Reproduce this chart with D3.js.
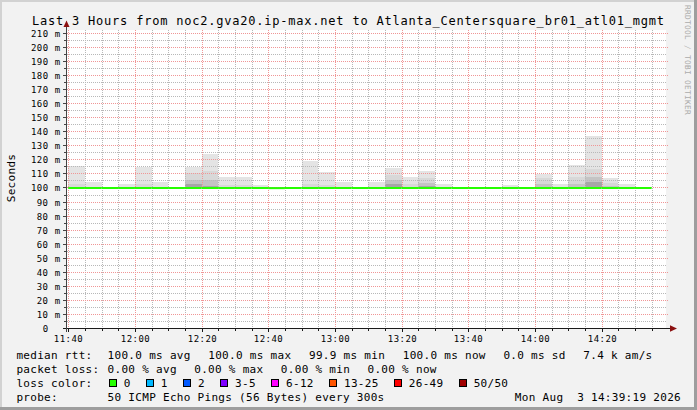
<!DOCTYPE html>
<html><head><meta charset="utf-8">
<script src="https://cdn.jsdelivr.net/npm/d3@7"></script>
<style>
html,body{margin:0;padding:0;background:#f2f2f2;}
svg{display:block;}
text{font-family:"DejaVu Sans Mono",monospace;white-space:pre;}
</style></head><body>
<svg id="chart" width="697" height="410"></svg>
<script>
// ---------- data ----------
const titleText = "Last 3 Hours from noc2.gva20.ip-max.net to Atlanta_Centersquare_br01_atl01_mgmt";
const rangeStart = "2026-08-03 11:39:19";
const rangeEnd = "2026-08-03 14:39:19";
const stepMinutes = 5;
const intervalStarts = ["11:40","11:45","11:50","11:55","12:00","12:05","12:10","12:15","12:20","12:25",
  "12:30","12:35","12:40","12:45","12:50","12:55","13:00","13:05","13:10","13:15",
  "13:20","13:25","13:30","13:35","13:40","13:45","13:50","13:55","14:00","14:05",
  "14:10","14:15","14:20","14:25","14:30"];
const smokeMin = [99.9,99.9,99.9,99.9,99.9,99.9,99.9,99.9,99.9,99.9,99.9,99.9,99.9,99.9,99.9,99.9,99.9,99.9,
  99.9,99.9,99.9,99.9,99.9,99.9,99.9,99.9,99.9,99.9,99.9,99.9,99.9,99.9,99.9,99.9,99.9];
const smokeMax = [116.0,104.6,100.6,102.7,115.3,104.6,100.6,114.6,124.2,107.6,107.6,102.3,100.6,100.6,119.1,
  111.7,104.6,100.6,104.2,114.1,107.5,111.9,102.6,100.6,100.6,100.6,101.8,100.6,110.1,102.5,116.7,136.7,107.2,102.5,100.6];
const smokeP90 = [103,101,100.5,100.5,103,101,100.5,110.5,112,102,102,100.5,100.5,100.5,103,102,101,100.5,
  101,109.3,103,107.2,100.5,100.5,100.5,100.5,100.5,100.5,107.2,100.5,108,113.7,103.4,100.5,100.5];
const smokeP75 = [100.5,100.5,100.5,100.5,100.5,100.5,100.5,105.5,106,100.5,100.5,100.5,100.5,100.5,100.5,100.5,
  100.5,100.5,100.5,105.7,100.8,103.5,100.5,100.5,100.5,100.5,100.5,100.5,103,100.5,103,107.7,101.2,100.5,100.5];
const smokeCore = [100.5,100.5,100.5,100.5,100.5,100.5,100.5,103,101.5,100.5,100.5,100.5,100.5,100.5,100.5,100.5,
  100.5,100.5,100.5,102.5,100.5,101.5,100.5,100.5,100.5,100.5,100.5,100.5,100.5,100.5,101,104,100.5,100.5,100.5];
const medianRtt = [100.0,100.0,100.0,100.0,100.0,100.0,100.0,100.0,100.0,100.0,100.0,100.0,99.9,100.0,100.0,100.0,
  100.0,100.0,100.0,100.0,100.0,100.0,100.0,100.0,100.0,100.0,100.0,100.0,100.0,100.0,100.0,100.0,100.0,100.0,100.0];
const lossCount = [0,0,0,0,0,0,0,0,0,0,0,0,0,0,0,0,0,0,0,0,0,0,0,0,0,0,0,0,0,0,0,0,0,0,0];
const yMajorTicks = [10,20,30,40,50,60,70,80,90,100,110,120,130,140,150,160,170,180,190,200,210];
const yMinorTicks = [5,15,25,35,45,55,65,75,85,95,105,115,125,135,145,155,165,175,185,195,205];
const yTickLabels = ["0","10","20","30","40","50","60","70","80","90","100","110","120","130","140","150","160","170","180","190","200","210"];
const xTickLabels = ["11:40","12:00","12:20","12:40","13:00","13:20","13:40","14:00","14:20"];
const xMinorLabels = ["11:45","11:50","11:55","12:05","12:10","12:15","12:25","12:30","12:35","12:45","12:50","12:55",
  "13:05","13:10","13:15","13:25","13:30","13:35","13:45","13:50","13:55","14:05","14:10","14:15","14:25","14:30","14:35"];
const rttStats = ["100.0 ms avg","100.0 ms max","99.9 ms min","100.0 ms now","0.0 ms sd","7.4 k am/s"];
const lossStats = ["0.00 % avg","0.00 % max","0.00 % min","0.00 % now"];
const lossLabels = ["0","1","2","3-5","6-12","13-25","26-49","50/50"];
const lossColors = ["#26ff00","#00b8ff","#0059ff","#7e00ff","#ff00ff","#ff5500","#ff0000","#a10000"];
const lossBreaks = [0,1,2,5,12,25,49,50];
const probeText = "50 ICMP Echo Pings (56 Bytes) every 300s";
const dateText = "Mon Aug\u00a0\u00a03 14:39:19 2026";

// ---------- scales ----------
const parseFull = d3.timeParse("%Y-%m-%d %H:%M:%S");
const parseHM = s => parseFull("2026-08-03 " + s + ":00");
const t0 = parseFull(rangeStart), t1 = parseFull(rangeEnd);
const X0 = 66, X1 = 666, Y0 = 328.5;
const x = d3.scaleTime().domain([t0, t1]).range([X0, X1]);
const y = d3.scaleLinear().domain([0, 212]).range([Y0, Y0 - 212 * 1.405]);
const px = v => Math.round(v) + 0.5;
const py = v => Math.floor(v) + 0.5;
const YT = Math.floor(y(212));

const svg = d3.select("#chart");
svg.append("rect").attr("width",697).attr("height",410).attr("fill","#f2f2f2");
svg.append("rect").attr("x",0).attr("y",0).attr("width",697).attr("height",2).attr("fill","#d2d2d2");
svg.append("rect").attr("x",0).attr("y",0).attr("width",2).attr("height",410).attr("fill","#d2d2d2");
svg.append("rect").attr("x",694).attr("y",0).attr("width",3).attr("height",410).attr("fill","#9e9e9e");
svg.append("rect").attr("x",0).attr("y",407).attr("width",697).attr("height",3).attr("fill","#9e9e9e");

// canvas
svg.append("rect").attr("x",X0).attr("y",YT).attr("width",X1-X0).attr("height",Y0-YT).attr("fill","#ffffff");

// ---------- smoke ----------
const rows = intervalStarts.map((s,i)=>({
  t: parseHM(s), min: smokeMin[i], max: smokeMax[i], p90: smokeP90[i], p75: smokeP75[i], core: smokeCore[i],
  med: medianRtt[i], loss: lossCount[i]
}));
const stepEnd = t => new Date(+t + stepMinutes*60000);
const layers = [["max","#e4e4e4"],["p90","#d8d8d8"],["p75","#c4c4c4"],["core","#a6a6a6"]];
const gSmoke = svg.append("g").attr("shape-rendering","crispEdges");
layers.forEach(([key,col])=>{
  gSmoke.selectAll(null).data(rows).enter().append("rect")
    .attr("x", d=>Math.round(x(d.t))).attr("width", d=>Math.round(x(stepEnd(d.t)))-Math.round(x(d.t)))
    .attr("y", d=>Math.round(y(d[key]))).attr("height", d=>Math.max(0, Math.round(y(d.min))-Math.round(y(d[key]))))
    .attr("fill", col);
});

// ---------- grid ----------
const majorTimes = xTickLabels.map(parseHM);
const minorTimes = xMinorLabels.map(parseHM);
const gGrid = svg.append("g").attr("shape-rendering","crispEdges");
function dottedV(t, col){
  const xx = Math.round(x(t));
  for (let yy = YT; yy < Y0 - 0.5; yy += 2)
    gGrid.append("rect").attr("x",xx).attr("y",yy).attr("width",1).attr("height",1).attr("fill",col);
}
function dottedH(v, col, x2){
  const yy = Math.floor(y(v));
  for (let xx = X0 + 1; xx < x2; xx += 2)
    gGrid.append("rect").attr("x",xx).attr("y",yy).attr("width",1).attr("height",1).attr("fill",col);
}
minorTimes.forEach(t=>dottedV(t,"#b8b8b8"));
yMinorTicks.forEach(v=>dottedH(v,"#b8b8b8",X1));
majorTimes.forEach(t=>dottedV(t,"#f09696"));
yMajorTicks.forEach(v=>dottedH(v,"#f09696",X1+2));

// ---------- median line ----------
const lossColor = n => lossColors[lossBreaks.findIndex(b=>n<=b)];
svg.append("g").selectAll(null).data(rows).enter().append("line")
  .attr("x1",d=>x(d.t)).attr("x2",d=>x(stepEnd(d.t)))
  .attr("y1",d=>y(d.med)).attr("y2",d=>y(d.med))
  .attr("stroke",d=>lossColor(d.loss)).attr("stroke-width",2);

// ---------- axes ----------
const gAx = svg.append("g").attr("shape-rendering","crispEdges");
gAx.append("line").attr("x1",63).attr("x2",671).attr("y1",Y0).attr("y2",Y0).attr("stroke","#1a1a1a");
gAx.append("line").attr("x1",X0+0.5).attr("x2",X0+0.5).attr("y1",Y0+3).attr("y2",26).attr("stroke","#444");
gAx.selectAll(null).data(yMajorTicks).enter().append("line")
  .attr("x1",63).attr("x2",X0).attr("y1",d=>py(y(d))).attr("y2",d=>py(y(d))).attr("stroke","#444");
gAx.selectAll(null).data(yMinorTicks).enter().append("line")
  .attr("x1",64).attr("x2",X0).attr("y1",d=>py(y(d))).attr("y2",d=>py(y(d))).attr("stroke","#444");
gAx.selectAll(null).data(minorTimes).enter().append("line")
  .attr("x1",d=>px(x(d))).attr("x2",d=>px(x(d))).attr("y1",Y0).attr("y2",Y0+2.5).attr("stroke","#1a1a1a");
gAx.selectAll(null).data(majorTimes).enter().append("line")
  .attr("x1",d=>px(x(d))).attr("x2",d=>px(x(d))).attr("y1",Y0).attr("y2",Y0+3.5).attr("stroke","#1a1a1a");
svg.append("path").attr("d",`M${X0+0.5},20.5 L${X0-2.5},27 L${X0+3.5},27 Z`).attr("fill","#8b1010");
svg.append("path").attr("d",`M677,${Y0} L670,${Y0-3.2} L670,${Y0+3.2} Z`).attr("fill","#8b1010");

// tick labels
const gYL = svg.append("g").attr("font-size","9px").attr("letter-spacing","0.45px").attr("fill","#000");
yTickLabels.forEach((lab,i)=>{
  const v = i===0 ? 0 : yMajorTicks[i-1];
  const yy = py(y(v));
  gYL.append("text").attr("x",48.5).attr("y",yy+3.6).attr("text-anchor","end").text(lab);
  if (i>0) gYL.append("text").attr("x",60.5).attr("y",yy+3.6).attr("text-anchor","end").text("m");
});
const gXL = svg.append("g").attr("font-size","9px").attr("letter-spacing","0.45px").attr("fill","#000");
gXL.selectAll(null).data(xTickLabels).enter().append("text")
  .attr("x",d=>px(x(parseHM(d)))).attr("y",341.5).attr("text-anchor","middle").text(d=>d);

// title
svg.append("text").attr("x",32).attr("y",24.5).attr("font-size","12px")
  .attr("textLength",632).attr("lengthAdjust","spacing").attr("fill","#000").text(titleText);
svg.append("text").attr("transform","translate(15,178) rotate(-90)").attr("text-anchor","middle")
  .attr("font-size","11px").attr("letter-spacing","0.3px").attr("fill","#000").text("Seconds");
svg.append("text").attr("transform","translate(685,5) rotate(90)").attr("text-anchor","start")
  .attr("font-size","7.8px").attr("letter-spacing","0.3px").attr("fill","#ababab").text("RRDTOOL / TOBI OETIKER");

// ---------- legend ----------
const gL = svg.append("g").attr("font-size","11px").attr("letter-spacing","0.3px").attr("fill","#000");
const LX = 16.4, VX = 107.6;
const rowY = [358.5, 372.5, 386.5, 400.5];
function itemRow(label, items, yy, gap){
  gL.append("text").attr("x",LX).attr("y",yy).text(label);
  let cx = VX;
  items.forEach(s=>{
    const t = gL.append("text").attr("x",cx).attr("y",yy).text(s);
    cx += t.node().getComputedTextLength() + gap;
  });
}
itemRow("median rtt:", rttStats, rowY[0], 17.6);
itemRow("packet loss:", lossStats, rowY[1], 17.4);
gL.append("text").attr("x",LX).attr("y",rowY[2]).text("loss color:");
let bx = 109;
lossLabels.forEach((lab,i)=>{
  gL.append("rect").attr("x",bx+0.5).attr("y",rowY[2]-7.5).attr("width",7).attr("height",7)
    .attr("fill",lossColors[i]).attr("stroke","#000").attr("stroke-width",1).attr("shape-rendering","crispEdges");
  const t = gL.append("text").attr("x",bx+14.7).attr("y",rowY[2]).text(lab);
  bx += 14.7 + t.node().getComputedTextLength() + 15.5;
});
gL.append("text").attr("x",LX).attr("y",rowY[3]).text("probe:");
gL.append("text").attr("x",VX).attr("y",rowY[3]).text(probeText);
gL.append("text").attr("x",681).attr("y",rowY[3]).attr("text-anchor","end").text(dateText);
</script>
</body></html>
